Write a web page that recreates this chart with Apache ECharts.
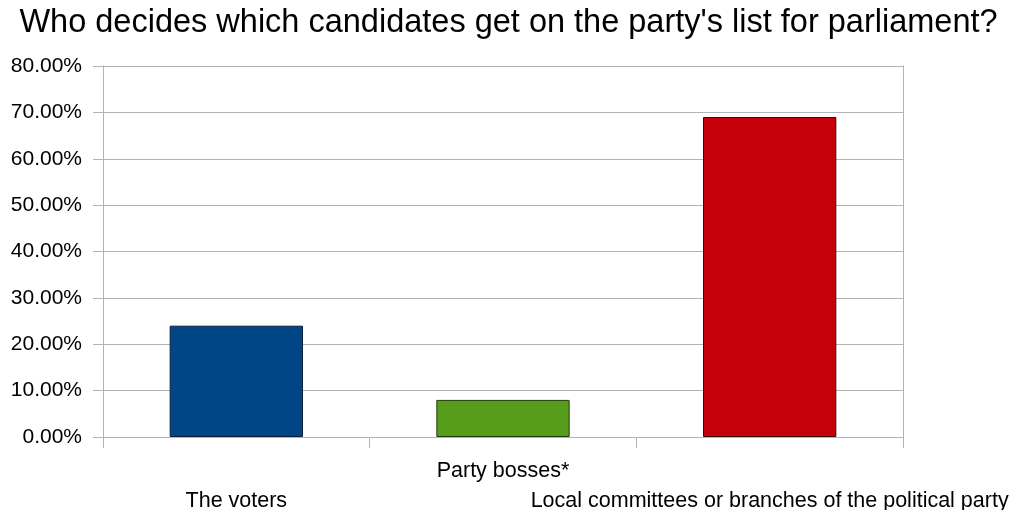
<!DOCTYPE html>
<html>
<head>
<meta charset="utf-8">
<script src="https://cdn.jsdelivr.net/npm/echarts@6/dist/echarts.min.js"></script>
<style>
  html, body { margin: 0; padding: 0; background: #ffffff; }
  #chart { width: 1017px; height: 510px; }
</style>
</head>
<body>
<div id="chart"></div>
<script>
// Survey answers (share of respondents, in percent)
const categories = ['The voters', 'Party bosses*', 'Local committees or branches of the political party'];
const shares = [24, 8, 69];
const barColors = ['#004586', '#579d1c', '#c5000b'];
const barBorders = ['#0b1f3d', '#1f3a0c', '#3a0a0a'];

const FONT = '"Liberation Sans", Arial, sans-serif';

const chart = echarts.init(document.getElementById('chart'), null, { renderer: 'canvas' });

chart.setOption({
  animation: false,
  backgroundColor: '#ffffff',
  title: {
    text: "Who decides which candidates get on the party's list for parliament?",
    left: 'center',
    top: 2,
    textStyle: { fontFamily: FONT, fontSize: 32.5, fontWeight: 'normal', color: '#000000' }
  },
  grid: { left: 103, right: 114, top: 66, bottom: 73, containLabel: false, outerBoundsMode: 'none' },
  xAxis: {
    type: 'category',
    data: categories,
    axisLine: { show: true, lineStyle: { color: '#b3b3b3', width: 1 } },
    axisTick: { show: true, length: 11, lineStyle: { color: '#b3b3b3' } },
    axisLabel: {
      interval: 0,
      margin: 19,
      fontFamily: FONT,
      fontSize: 21.5,
      color: '#000000',
      lineHeight: 30,
      verticalAlign: 'top',
      // stagger the long labels onto a second row
      formatter: (v, i) => (i % 2 === 0 ? '\n' + v : v)
    }
  },
  yAxis: [{
    type: 'value',
    min: 0,
    max: 80,
    interval: 10,
    axisLine: { show: true, lineStyle: { color: '#b3b3b3', width: 1 } },
    axisTick: { show: true, length: 10, lineStyle: { color: '#b3b3b3' } },
    splitLine: { show: true, lineStyle: { color: '#b3b3b3', width: 1 } },
    axisLabel: {
      margin: 21,
      fontFamily: FONT,
      fontSize: 21,
      color: '#000000',
      formatter: v => v.toFixed(2) + '%'
    }
  }, {
    // right-hand border of the plot area
    type: 'value',
    position: 'right',
    min: 0,
    max: 80,
    interval: 10,
    axisLine: { show: true, lineStyle: { color: '#b3b3b3', width: 1 } },
    axisTick: { show: false },
    axisLabel: { show: false },
    splitLine: { show: false }
  }],
  series: [{
    type: 'bar',
    data: shares.map((v, i) => ({
      value: v,
      itemStyle: { color: barColors[i], borderColor: barBorders[i], borderWidth: 1 }
    })),
    barCategoryGap: '50%'
  }]
});
</script>
</body>
</html>
